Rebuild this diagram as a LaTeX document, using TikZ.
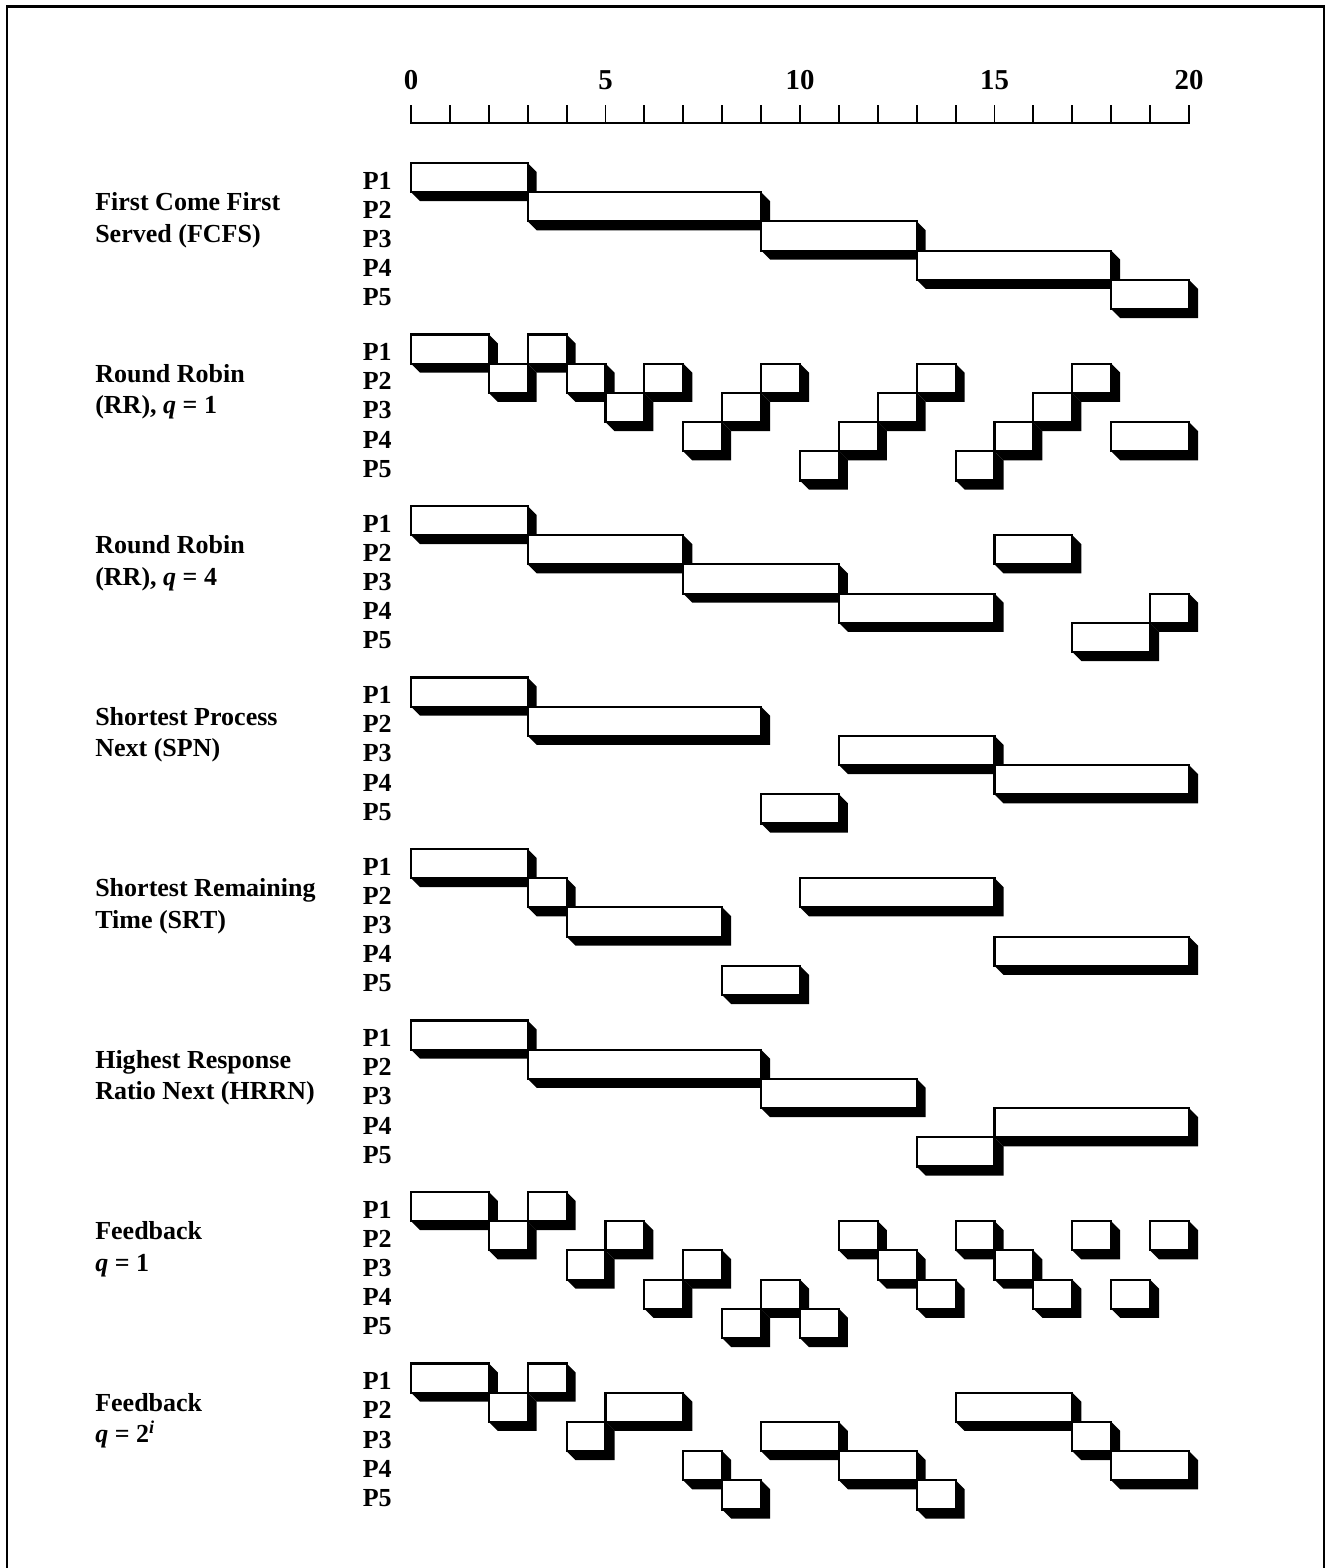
\documentclass[tikz,border=0pt]{standalone}
\usepackage{fontspec}
\setmainfont{Liberation Serif}
\usetikzlibrary{positioning}
\tikzset{
  frameline/.style ={line width=2.1pt},
  axisline/.style  ={line width=1.4pt},
  face/.style      ={draw=black,fill=white,line width=1.5pt},
  shade/.style     ={fill=black},
  plbl/.style      ={font=\fontsize{18.5}{22}\selectfont\bfseries,inner sep=0pt,anchor=east},
  slbl/.style      ={font=\fontsize{18.5}{22.2}\selectfont\bfseries,inner sep=0pt,
                     anchor=north west,align=left},
  tlbl/.style      ={font=\fontsize{20.5}{24}\selectfont\bfseries,inner sep=0pt},
}

\begin{document}
\begin{tikzpicture}[x=0.25mm,y=-0.25mm]
\def\tu{38.9}  % one time unit
\def\xo{411}   % time 0
\def\rh{29.2}  % row height
\def\sh{171.5} % section pitch
\def\yo{163}   % first bar top
\def\sd{9}     % shadow depth
\useasboundingbox (0,0) rectangle (1327,1568);

% frame, open at the bottom
\draw[frameline] (7,1568) -- (7,6.5) -- (1324,6.5) -- (1324,1568);

% time axis
\draw[axisline] (\xo,105) -- (\xo,123) -- ({\xo+20*\tu},123) -- ({\xo+20*\tu},105);
\foreach \t in {1,...,19}
  \draw[axisline] ({\xo+\t*\tu},123) -- ({\xo+\t*\tu},105);
\foreach \t in {0,5,10,15,20}
  \node[tlbl] (t\t) at ({\xo+\t*\tu},80) {\t};

% one block of five rows per policy
\foreach \s/\name/\segs in {
  0/{First Come First\\Served (FCFS)}/{1/0/3,2/3/9,3/9/13,4/13/18,5/18/20},
  1/{Round Robin\\(RR), {\itshape q} = 1}/{1/0/2,2/2/3,1/3/4,2/4/5,3/5/6,2/6/7,4/7/8,3/8/9,2/9/10,
     5/10/11,4/11/12,3/12/13,2/13/14,5/14/15,4/15/16,3/16/17,2/17/18,4/18/20},
  2/{Round Robin\\(RR), {\itshape q} = 4}/{1/0/3,2/3/7,3/7/11,4/11/15,2/15/17,5/17/19,4/19/20},
  3/{Shortest Process\\Next (SPN)}/{1/0/3,2/3/9,5/9/11,3/11/15,4/15/20},
  4/{Shortest Remaining\\Time (SRT)}/{1/0/3,2/3/4,3/4/8,5/8/10,2/10/15,4/15/20},
  5/{Highest Response\\Ratio Next (HRRN)}/{1/0/3,2/3/9,3/9/13,5/13/15,4/15/20},
  6/{Feedback\\{\itshape q} = 1}/{1/0/2,2/2/3,1/3/4,3/4/5,2/5/6,4/6/7,3/7/8,5/8/9,4/9/10,5/10/11,
     2/11/12,3/12/13,4/13/14,2/14/15,3/15/16,4/16/17,2/17/18,4/18/19,2/19/20},
  7/{Feedback\\{\itshape q} = 2\textsuperscript{\itshape i}}/{1/0/2,2/2/3,1/3/4,3/4/5,2/5/7,4/7/8,
     5/8/9,3/9/11,4/11/13,5/13/14,2/14/17,3/17/18,4/18/20}}
{
  \pgfmathsetmacro{\ys}{\yo+\s*\sh}
  \node[slbl] (m\s) at (95,{\ys+29.5}) {\name};
  \foreach \r in {1,...,5}
    \node[plbl] (p\s\r) at (392,{\ys+(\r-0.5)*\rh+3}) {P\r};
  \foreach \r/\a/\b in \segs {
    \pgfmathsetmacro{\xa}{\xo+\a*\tu}
    \pgfmathsetmacro{\xb}{\xo+\b*\tu}
    \pgfmathsetmacro{\ya}{\ys+(\r-1)*\rh}
    \pgfmathsetmacro{\yb}{\ya+\rh}
    \fill[shade] (\xa,\ya) -- (\xb,\ya) -- ++(\sd,\sd) -- ({\xb+\sd},{\yb+\sd})
      -- ({\xa+\sd},{\yb+\sd}) -- (\xa,\yb) -- cycle;
    \draw[face] (\xa,\ya) rectangle (\xb,\yb);
  }
}
\end{tikzpicture}
\end{document}
